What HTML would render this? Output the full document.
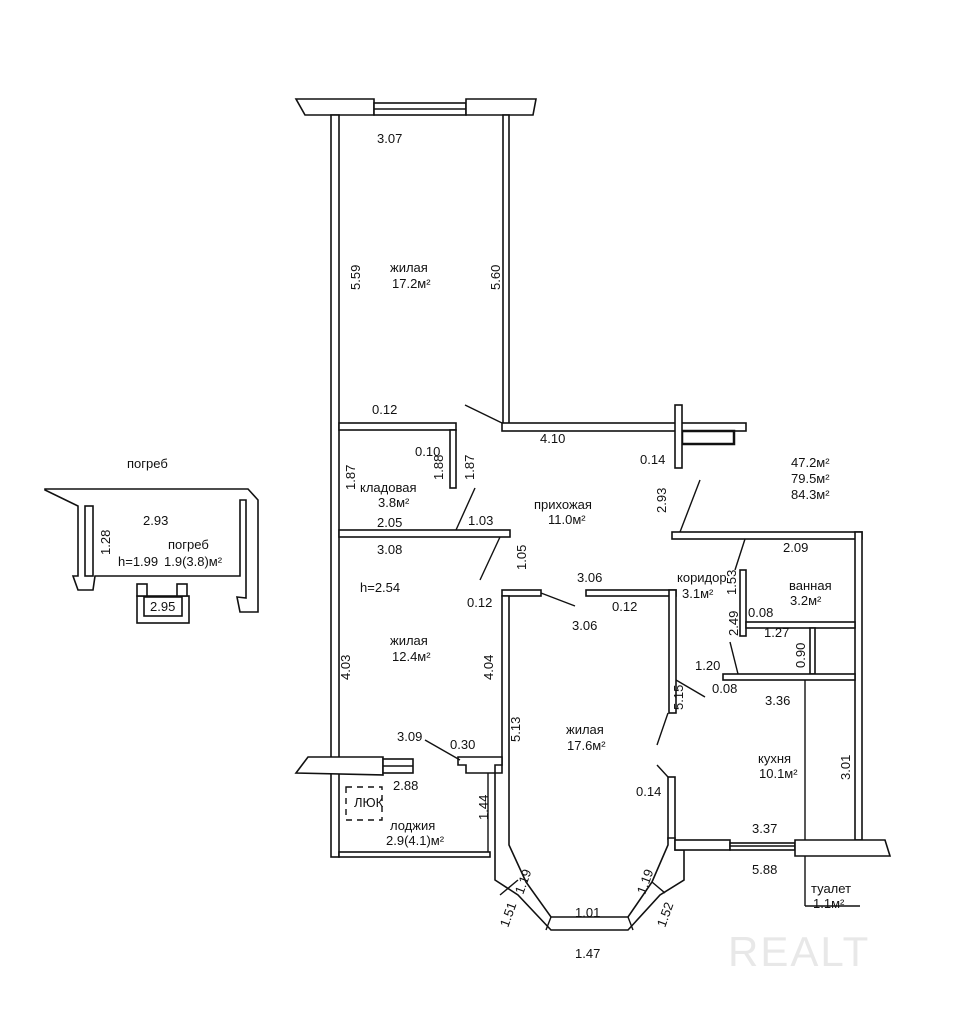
<!DOCTYPE html>
<html><head><meta charset="utf-8"><style>
body{margin:0;background:#fff}
svg{display:block}
text{font-family:"Liberation Sans","DejaVu Sans",sans-serif;font-size:13px;fill:#111}
.w{fill:#fff;stroke:#111;stroke-width:1.6}
.l{stroke:#111;stroke-width:1.4;fill:none}
</style></head><body>
<svg width="955" height="1019" viewBox="0 0 955 1019" xmlns="http://www.w3.org/2000/svg">
<!-- top window -->
<polygon class="w" points="296,99 374,99 374,115 305,115"/>
<rect class="w" x="374" y="103" width="92" height="12"/>
<line class="l" x1="374" y1="109" x2="466" y2="109"/>
<polygon class="w" points="466,99 536,99 533,115 466,115"/>
<!-- outer left wall -->
<rect class="w" x="331" y="115" width="8" height="742"/>
<!-- right wall of top room -->
<rect class="w" x="503" y="115" width="6" height="310"/>
<!-- wall 4.10 -->
<rect class="w" x="502" y="423" width="244" height="8"/>
<rect x="682" y="431" width="52" height="13" fill="#fff" stroke="#111" stroke-width="2.5"/>
<rect class="w" x="675" y="405" width="7" height="63"/>
<line class="l" x1="465" y1="405" x2="502" y2="423"/>
<!-- kladovaya -->
<rect class="w" x="339" y="423" width="117" height="7"/>
<rect class="w" x="450" y="430" width="6" height="58"/>
<line class="l" x1="475" y1="488" x2="456" y2="530"/>
<rect class="w" x="339" y="530" width="171" height="7"/>
<line class="l" x1="500" y1="537" x2="480" y2="580"/>
<!-- corridor wall -->
<rect class="w" x="672" y="532" width="190" height="7"/>
<line class="l" x1="700" y1="480" x2="680" y2="532"/>
<line class="l" x1="745" y1="539" x2="735" y2="570"/>
<rect class="w" x="855" y="532" width="7" height="308"/>
<!-- bath / toilet -->
<rect class="w" x="740" y="570" width="6" height="66"/>
<rect class="w" x="746" y="622" width="109" height="6"/>
<rect class="w" x="810" y="628" width="5" height="46"/>
<rect class="w" x="723" y="674" width="132" height="6"/>
<line class="l" x1="730" y1="642" x2="738" y2="674"/>
<line class="l" x1="805" y1="680" x2="805" y2="906"/>
<line class="l" x1="805" y1="906" x2="860" y2="906"/>
<!-- living 17.6 -->
<rect class="w" x="502" y="590" width="39" height="6"/>
<rect class="w" x="586" y="590" width="90" height="6"/>
<rect class="w" x="669" y="590" width="7" height="123"/>
<line class="l" x1="541" y1="593" x2="575" y2="606"/>
<line class="l" x1="676" y1="680" x2="705" y2="697"/>
<line class="l" x1="668" y1="713" x2="657" y2="745"/>
<line class="l" x1="657" y1="765" x2="668" y2="777"/>
<rect class="w" x="668" y="777" width="7" height="62"/>
<polygon class="w" points="502,596 509,596 509,845 526,882 551,917 628,917 652,882 668,845 668,838 675,838 675,850 684,850 684,880 660,895 628,930 551,930 518,895 495,880 495,773 502,773"/>
<line class="l" x1="518" y1="880" x2="500" y2="895"/>
<line class="l" x1="551" y1="917" x2="546" y2="930"/>
<line class="l" x1="628" y1="917" x2="633" y2="930"/>
<line class="l" x1="652" y1="882" x2="665" y2="893"/>
<!-- kitchen bottom -->
<rect class="w" x="675" y="840" width="55" height="10"/>
<rect class="w" x="730" y="843" width="65" height="7"/>
<line class="l" x1="730" y1="846" x2="795" y2="846"/>
<polygon class="w" points="795,840 885,840 890,856 795,856"/>
<!-- loggia -->
<polygon class="w" points="296,773 308,757 383,757 383,775"/>
<rect class="w" x="383" y="759" width="30" height="14"/>
<line class="l" x1="383" y1="766" x2="413" y2="766"/>
<polygon class="w" points="458,757 502,757 502,765 495,765 495,773 466,773 466,765 458,765"/>
<line class="l" x1="488" y1="773" x2="488" y2="852"/>
<rect class="w" x="339" y="852" width="151" height="5"/>
<line class="l" x1="425" y1="740" x2="460" y2="760"/>
<rect x="346" y="787" width="36" height="33" fill="none" stroke="#111" stroke-width="1.4" stroke-dasharray="6,5"/>
<!-- cellar -->
<polygon class="w" points="45,489 248,489 258,500 258,612 240,612 237,597 246,598 246,500 240,500 240,576 95,576 93,590 78,590 73,576 78,576 78,506 45,490"/>
<rect class="w" x="85" y="506" width="8" height="70"/>
<rect class="w" x="137" y="596" width="52" height="27"/>
<rect class="w" x="144" y="597" width="38" height="19"/>
<rect class="w" x="137" y="584" width="10" height="12"/>
<rect class="w" x="177" y="584" width="10" height="12"/>
<!-- labels -->
<text x="377" y="143">3.07</text>
<text x="390" y="272">жилая</text><text x="392" y="288">17.2м²</text>
<text transform="translate(360,290) rotate(-90)">5.59</text>
<text transform="translate(500,290) rotate(-90)">5.60</text>
<text x="372" y="414">0.12</text>
<text x="540" y="443">4.10</text>
<text x="415" y="456">0.10</text>
<text x="640" y="464">0.14</text>
<text transform="translate(443,480) rotate(-90)">1.88</text>
<text transform="translate(474,480) rotate(-90)">1.87</text>
<text transform="translate(355,490) rotate(-90)">1.87</text>
<text x="360" y="492">кладовая</text><text x="378" y="507">3.8м²</text>
<text transform="translate(666,513) rotate(-90)">2.93</text>
<text x="534" y="509">прихожая</text><text x="548" y="524">11.0м²</text>
<text x="791" y="467">47.2м²</text><text x="791" y="483">79.5м²</text><text x="791" y="499">84.3м²</text>
<text x="377" y="527">2.05</text><text x="468" y="525">1.03</text>
<text x="377" y="554">3.08</text>
<text transform="translate(526,570) rotate(-90)">1.05</text>
<text x="783" y="552">2.09</text>
<text x="577" y="582">3.06</text>
<text x="677" y="582">коридор</text><text x="682" y="598">3.1м²</text>
<text transform="translate(736,595) rotate(-90)">1.53</text>
<text x="789" y="590">ванная</text><text x="790" y="605">3.2м²</text>
<text x="360" y="592">h=2.54</text>
<text x="467" y="607">0.12</text>
<text x="612" y="611">0.12</text>
<text x="572" y="630">3.06</text>
<text x="748" y="617">0.08</text>
<text transform="translate(738,636) rotate(-90)">2.49</text>
<text x="764" y="637">1.27</text>
<text transform="translate(805,668) rotate(-90)">0.90</text>
<text x="390" y="645">жилая</text><text x="392" y="661">12.4м²</text>
<text transform="translate(350,680) rotate(-90)">4.03</text>
<text transform="translate(493,680) rotate(-90)">4.04</text>
<text x="695" y="670">1.20</text>
<text x="712" y="693">0.08</text>
<text x="765" y="705">3.36</text>
<text transform="translate(683,710) rotate(-90)">5.15</text>
<text transform="translate(520,742) rotate(-90)">5.13</text>
<text x="566" y="734">жилая</text><text x="567" y="750">17.6м²</text>
<text x="397" y="741">3.09</text><text x="450" y="749">0.30</text>
<text x="758" y="763">кухня</text><text x="759" y="778">10.1м²</text>
<text transform="translate(850,780) rotate(-90)">3.01</text>
<text x="393" y="790">2.88</text>
<text x="354" y="807">ЛЮК</text>
<text transform="translate(488,820) rotate(-90)">1.44</text>
<text x="636" y="796">0.14</text>
<text x="390" y="830">лоджия</text><text x="386" y="845">2.9(4.1)м²</text>
<text x="752" y="833">3.37</text>
<text x="752" y="874">5.88</text>
<text x="811" y="893">туалет</text><text x="813" y="908">1.1м²</text>
<text transform="translate(523,895) rotate(-70)">1.19</text>
<text transform="translate(645,895) rotate(-70)">1.19</text>
<text transform="translate(508,928) rotate(-70)">1.51</text>
<text transform="translate(665,928) rotate(-70)">1.52</text>
<text x="575" y="917">1.01</text>
<text x="575" y="958">1.47</text>
<text x="127" y="468">погреб</text>
<text x="143" y="525">2.93</text>
<text transform="translate(110,555) rotate(-90)">1.28</text>
<text x="168" y="549">погреб</text>
<text x="118" y="566">h=1.99</text><text x="164" y="566">1.9(3.8)м²</text>
<text x="150" y="611">2.95</text>
<text x="728" y="966" style="font-size:42px;fill:#e8e8e8;letter-spacing:2px">REALT</text>
</svg>
</body></html>
